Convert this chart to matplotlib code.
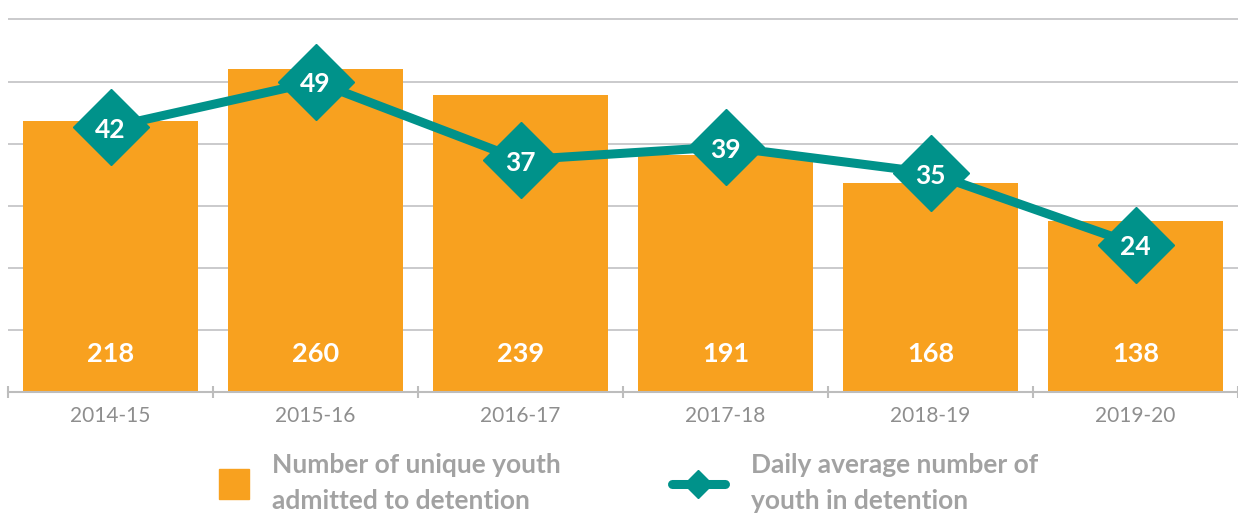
import matplotlib
matplotlib.use("Agg")
import matplotlib.pyplot as plt
from matplotlib.lines import Line2D

plt.rcParams['font.family'] = ['Lato', 'DejaVu Sans']

years = ["2014-15", "2015-16", "2016-17", "2017-18", "2018-19", "2019-20"]
unique_youth = [218, 260, 239, 191, 168, 138]
daily_avg = [42, 49, 37, 39, 35, 24]

orange = "#F8A11F"
teal = "#00928A"
grid_c = "#C6C6C8"
tick_c = "#8E8E8E"
legend_c = "#A2A2A2"

fig = plt.figure(figsize=(12.38, 5.16), dpi=100)
ax = fig.add_axes([8 / 1238, 124 / 516, 1230 / 1238, 375 / 516])

x = list(range(len(years)))
ax.bar(x, unique_youth, width=0.85, color=orange, zorder=2)
for xi, v in zip(x, unique_youth):
    ax.annotate(str(v), xy=(xi, 0), xytext=(0, 27), textcoords="offset points",
                ha="center", va="center", color="white", fontsize=19.5, fontweight="bold")

ax.set_xlim(-0.5, len(years) - 0.5)
ax.set_ylim(0, 302)
ax.set_yticks(range(0, 301, 50))
ax.yaxis.grid(True, color=grid_c, lw=1.3, zorder=0)
ax.set_axisbelow(True)
ax.tick_params(axis="y", length=0, labelleft=False)
for s in ["top", "right", "left"]:
    ax.spines[s].set_visible(False)
ax.spines["bottom"].set_color("#BDBDBD")
ax.spines["bottom"].set_linewidth(1.5)
ax.set_xticks(x)
ax.set_xticklabels(years)
ax.tick_params(axis="x", length=0, pad=10, labelsize=15, labelcolor=tick_c)
ax.set_xticks([i - 0.5 for i in range(len(years) + 1)], minor=True)
ax.tick_params(axis="x", which="minor", direction="inout", length=9, width=1.5, color="#BDBDBD")

ax2 = ax.twinx()
ax2.set_ylim(1.4, 58.9)
ax2.axis("off")
ax2.plot(x, daily_avg, color=teal, lw=6.5, marker="D", ms=39, zorder=3,
         solid_capstyle="butt")
for xi, v in zip(x, daily_avg):
    ax2.annotate(str(v), xy=(xi, v), xytext=(0, -2), textcoords="offset points",
                 ha="center", va="center", color="white", fontsize=19, fontweight="bold")

h1 = Line2D([], [], marker="s", ls="none", color=orange, ms=21)
h2 = Line2D([], [], color=teal, lw=6.5, marker="D", ms=14, solid_capstyle="round")
leg_kw = dict(frameon=False, loc="upper left", borderpad=0, borderaxespad=0,
              prop={"size": 19, "weight": "bold"}, labelcolor=legend_c,
              bbox_transform=fig.transFigure, labelspacing=0)
leg1 = fig.legend([h1], ["Number of unique youth\nadmitted to detention"],
                  bbox_to_anchor=(218 / 1238, 1 - 453 / 516),
                  handlelength=1.2, handletextpad=0.85, **leg_kw)
leg2 = fig.legend([h2], ["Daily average number of\nyouth in detention"],
                  bbox_to_anchor=(672 / 1238, 1 - 453 / 516),
                  handlelength=2.0, handletextpad=1.0, **leg_kw)
for leg in (leg1, leg2):
    for t in leg.get_texts():
        t.set_linespacing(1.6)

fig.savefig("out.png", dpi=100)
